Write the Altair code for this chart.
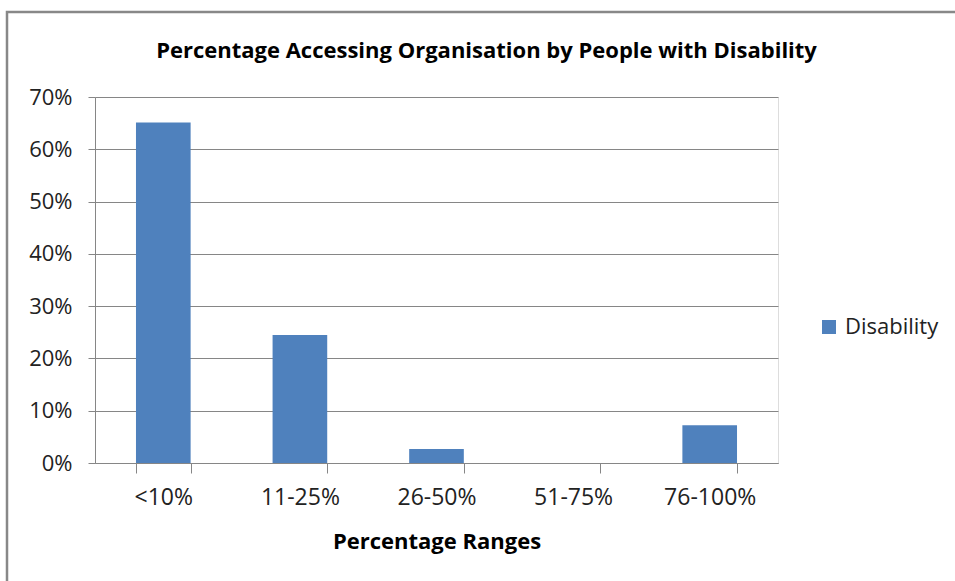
import altair as alt
import pandas as pd

categories = ["<10%", "11-25%", "26-50%", "51-75%", "76-100%"]
values = [0.651, 0.245, 0.027, 0.0, 0.072]
series = ["Disability"] * len(categories)

df = pd.DataFrame({"range": categories, "share": values, "series": series})

FONT = "Open Sans"
GRID = "#868686"

bars = alt.Chart(df).mark_bar(color="#4F81BD").encode(
    x=alt.X("range:N", sort=categories,
            scale=alt.Scale(paddingInner=0.6, paddingOuter=0.3),
            axis=alt.Axis(title="Percentage Ranges", labelAngle=0,
                          tickBand="extent", tickSize=10, tickColor=GRID,
                          domainColor=GRID, labelFont=FONT, labelFontSize=23,
                          labelColor="#222222", labelPadding=13,
                          titleFont=FONT, titleFontSize=22, titleFontWeight="bold",
                          titleColor="#000000", titlePadding=22)),
    y=alt.Y("share:Q", scale=alt.Scale(domain=[0, 0.7]),
            axis=alt.Axis(title=None, format=".0%", values=[0, 0.1, 0.2, 0.3, 0.4, 0.5, 0.6, 0.7],
                          grid=True, gridColor=GRID, tickColor=GRID, tickSize=7,
                          domainColor=GRID, labelFont=FONT, labelFontSize=22,
                          labelColor="#222222", labelPadding=16)),
    color=alt.Color("series:N", scale=alt.Scale(range=["#4F81BD"]),
                    legend=alt.Legend(title=None, orient="none", legendX=723, legendY=219,
                                      symbolType="square", symbolSize=196, symbolStrokeWidth=0,
                                      labelFont=FONT, labelFontSize=22, labelColor="#222222",
                                      labelOffset=5, padding=0)),
)

frame = alt.Chart(pd.DataFrame({"a": [0]})).mark_rect(
    fill=None, stroke="#888888", strokeWidth=2.5
).encode(
    x=alt.value(-88), y=alt.value(-85), x2=alt.value(920), y2=alt.value(520)
)

chart = alt.layer(frame, bars).properties(
    width=683, height=366,
    title=alt.TitleParams("Percentage Accessing Organisation  by People with Disability",
                          font=FONT, fontSize=22, fontWeight="bold", color="#000000",
                          anchor="middle", dx=50, offset=-52),
    autosize=alt.AutoSizeParams(type="none"),
    padding={"left": 95, "top": 97, "right": 177, "bottom": 118},
).configure_view(stroke=None).configure(background="white")

chart.save("out.html", embed_options={"renderer": "svg", "actions": False})
